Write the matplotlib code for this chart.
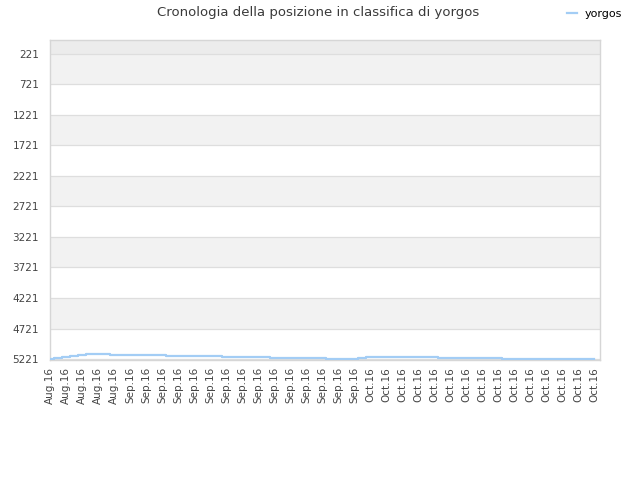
import matplotlib
matplotlib.use("Agg")
import matplotlib.pyplot as plt

# Daily rank values (day 0 = Aug 22, 2016)
days = list(range(69))
ranks = ([5221, 5200, 5185, 5167, 5151, 5140, 5134, 5134]
         + [5151] * 7
         + [5167] * 7
         + [5183] * 6
         + [5200] * 7
         + [5216] * 4
         + [5205, 5183]
         + [5183] * 8
         + [5200] * 8
         + [5216] * 8
         + [5225] * 4)
ranks = ranks[:len(days)]

tick_days = list(range(0, 69, 2))
tick_labels = ["Aug.16"] * 5 + ["Sep.16"] * 15 + ["Oct.16"] * 15
y_ticks = [221, 721, 1221, 1721, 2221, 2721, 3221, 3721, 4221, 4721, 5221]

title = "Cronologia della posizione in classifica di yorgos"
series_name = "yorgos"

fig = plt.figure(figsize=(6.4, 4.8), dpi=100)
ax = fig.add_axes([50/640, 120/480, 550/640, 320/480])

y_top, y_bot = 0, 5236
# alternating bands
ax.axhspan(y_top, y_ticks[0], color="#ececec", lw=0, zorder=0)
for i in range(len(y_ticks) - 1):
    if i % 2 == 0:
        ax.axhspan(y_ticks[i], y_ticks[i + 1], color="#f2f2f2", lw=0, zorder=0)
for yt in y_ticks:
    ax.axhline(yt, color="#dedede", lw=0.9, zorder=1)

line, = ax.plot(days, ranks, color="#a3cdf5", lw=1.6, drawstyle="steps-mid", zorder=3,
                label=series_name)

ax.set_xlim(0, 68.75)
ax.set_ylim(y_bot, y_top)
ax.set_yticks(y_ticks)
ax.set_yticklabels([str(v) for v in y_ticks], fontsize=7.5, color="#444444")
ax.set_xticks(tick_days)
ax.set_xticklabels(tick_labels, rotation=90, fontsize=7.5, color="#444444")
ax.tick_params(axis="y", length=0, pad=8)
ax.tick_params(axis="x", length=0, pad=5)
for s in ax.spines.values():
    s.set_color("#d6d6d6")
    s.set_linewidth(1)

fig.text(0.497, 0.988, title, ha="center", va="top", fontsize=9.5, color="#3a3a3a")
fig.legend(handles=[line], labels=[series_name], loc="upper right",
           bbox_to_anchor=(0.988, 1.003), frameon=False, fontsize=8,
           handlelength=0.9, handletextpad=0.7)

fig.savefig("out.png", dpi=100)
